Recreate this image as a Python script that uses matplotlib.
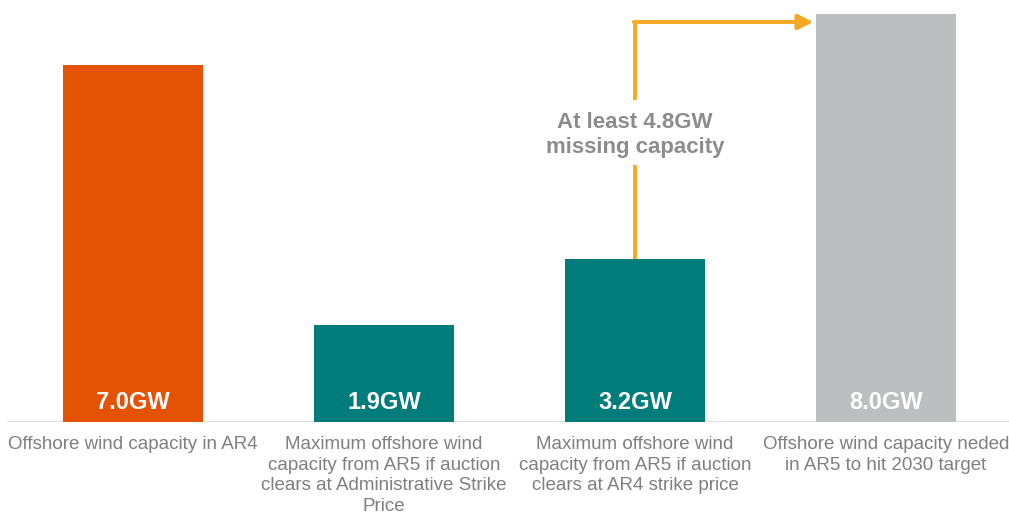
import matplotlib.pyplot as plt
import numpy as np

plt.rcParams['font.family'] = ['Liberation Sans', 'DejaVu Sans']

# data
categories = ['Offshore wind capacity in AR4',
              'Maximum offshore wind\ncapacity from AR5 if auction\nclears at Administrative Strike\nPrice',
              'Maximum offshore wind\ncapacity from AR5 if auction\nclears at AR4 strike price',
              'Offshore wind capacity neded\nin AR5 to hit 2030 target']
capacity_gw = [7.0, 1.9, 3.2, 8.0]
value_labels = ['7.0GW', '1.9GW', '3.2GW', '8.0GW']
bar_colors = ['#E35205', '#007C7A', '#007C7A', '#BCBEC0']
gap_label = 'At least 4.8GW\nmissing capacity'

fig = plt.figure(figsize=(10.09, 5.16), dpi=100)
ax = fig.add_axes([0, 94 / 516, 1, 422 / 516])

x = np.arange(len(capacity_gw))
ax.bar(x, capacity_gw, width=0.554, color=bar_colors, zorder=2)

ax.set_xlim(-133 / 251, (1009 - 133) / 251)
ax.set_ylim(0, 422 / 51)
ax.axis('off')

# baseline
ax.axhline(0, xmin=8 / 1009, xmax=1.0, color='#D9D9D9', lw=1.2, zorder=1)

for xi, lab in zip(x, value_labels):
    ax.text(xi, 0.39, lab, ha='center', va='center', color='white',
            fontsize=17, fontweight='bold', zorder=3)

for xi, cat in zip(x, categories):
    ax.text(xi, -14 / 51, cat, ha='center', va='top', color='#7F7F7F',
            fontsize=13.5, linespacing=1.28, clip_on=False)

# gap arrow from bar 3 to bar 4
arrow_y = (422 - 22) / 51
orange = '#F7A823'
ax.plot([2, 2], [capacity_gw[2], 5.04], color=orange, lw=2.8, solid_capstyle='butt', zorder=2)
ax.plot([2, 2], [6.31, arrow_y], color=orange, lw=2.8, solid_capstyle='butt', zorder=2)
ax.annotate('', xy=(2.71, arrow_y), xytext=(2 - 0.005, arrow_y),
            arrowprops=dict(arrowstyle='-|>,head_length=0.9,head_width=0.45',
                            color=orange, lw=2.8, shrinkA=0, shrinkB=0))
ax.text(2, 5.63, gap_label, ha='center', va='center', color='#8C8C8C',
        fontsize=16, fontweight='bold', linespacing=1.25)

plt.savefig('out.png', dpi=100)
